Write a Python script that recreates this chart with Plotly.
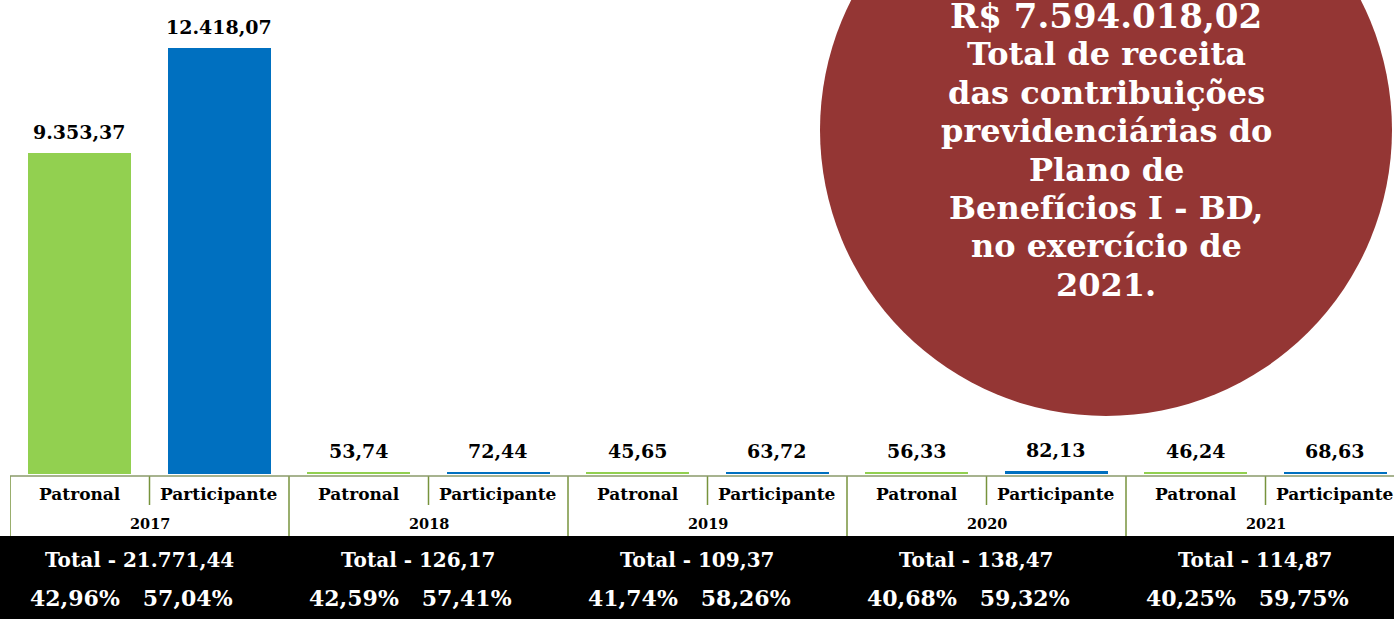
import plotly.graph_objects as go

years = ["2017", "2018", "2019", "2020", "2021"]
patronal = [9353.37, 53.74, 45.65, 56.33, 46.24]
participante = [12418.07, 72.44, 63.72, 82.13, 68.63]
totais = ["21.771,44", "126,17", "109,37", "138,47", "114,87"]
pct_patronal = ["42,96%", "42,59%", "41,74%", "40,68%", "40,25%"]
pct_participante = ["57,04%", "57,41%", "58,26%", "59,32%", "59,75%"]
cat_labels = ["Patronal", "Participante"]
circle_title = "R$ 7.594.018,02"
circle_lines = ["Total de receita", "das contribuições", "previdenciárias do",
                "Plano de", "Benefícios I - BD,", "no exercício de", "2021."]

W, H = 1394, 619
FONT = "DejaVu Serif"
GREEN = "#92D050"
BLUE = "#0070C0"
LINE = "#77933C"

def br(v):
    s = f"{v:,.2f}"
    return s.replace(",", "X").replace(".", ",").replace("X", ".")

xp = [2 * i for i in range(len(years))]
xq = [2 * i + 1 for i in range(len(years))]

fig = go.Figure()
fig.add_trace(go.Bar(x=xp, y=patronal, width=0.74, marker=dict(color=GREEN, line=dict(width=0)),
                     name="Patronal", showlegend=False))
fig.add_trace(go.Bar(x=xq, y=participante, width=0.74, marker=dict(color=BLUE, line=dict(width=0)),
                     name="Participante", showlegend=False))

ann = []
shapes = []
for i in range(len(years)):
    for x, v in ((xp[i], patronal[i]), (xq[i], participante[i])):
        ann.append(dict(x=x, y=v, xref="x", yref="y", text=f"<b>{br(v)}</b>", showarrow=False,
                        xanchor="center", yanchor="bottom", yshift=8,
                        font=dict(family=FONT, size=19, color="black")))
    # category row
    for x, lab in ((xp[i], cat_labels[0]), (xq[i], cat_labels[1])):
        ann.append(dict(x=x, y=(H - 494) / H, xref="x", yref="paper", text=f"<b>{lab}</b>",
                        showarrow=False, xanchor="center", yanchor="middle",
                        font=dict(family=FONT, size=17, color="black")))
    ann.append(dict(x=2 * i + 0.5, y=(H - 523) / H, xref="x", yref="paper", text=f"<b>{years[i]}</b>",
                    showarrow=False, xanchor="center", yanchor="middle",
                    font=dict(family=FONT, size=14.5, color="black")))
    ann.append(dict(x=2 * i + 0.43, y=(H - 560) / H, xref="x", yref="paper",
                    text=f"<b>Total - {totais[i]}</b>", showarrow=False, xanchor="center",
                    yanchor="middle", font=dict(family=FONT, size=20, color="white")))
    ann.append(dict(x=2 * i + 0.37, y=(H - 598) / H, xref="x", yref="paper",
                    text=f"<b>{pct_patronal[i]}   {pct_participante[i]}</b>", showarrow=False,
                    xanchor="center", yanchor="middle", font=dict(family=FONT, size=22, color="white")))
    # within-year divider
    shapes.append(dict(type="line", xref="x", yref="paper", x0=2 * i + 0.5, x1=2 * i + 0.5,
                       y0=(H - 505) / H, y1=(H - 476) / H, line=dict(color=LINE, width=1.5)))
    # year divider
    shapes.append(dict(type="line", xref="x", yref="paper", x0=2 * i - 0.5, x1=2 * i - 0.5,
                       y0=(H - 536) / H, y1=(H - 476) / H, line=dict(color=LINE, width=1.5)))

# black band
shapes.insert(0, dict(type="rect", xref="paper", yref="paper", x0=0, x1=1, y0=0, y1=(H - 536) / H,
                      fillcolor="black", line=dict(width=0), layer="below"))
# top border of table
shapes.append(dict(type="line", xref="paper", yref="paper", x0=10 / W, x1=1, y0=(H - 476) / H,
                   y1=(H - 476) / H, line=dict(color="#8A9A6A", width=1.5)))
# circle
shapes.append(dict(type="circle", xref="paper", yref="paper", x0=820 / W, x1=1392 / W,
                   y0=(H - 416) / H, y1=(H + 156) / H, fillcolor="#943634", line=dict(width=0),
                   layer="above"))

cx = 1106 / W
ann.append(dict(x=cx, y=(H - 16) / H, xref="paper", yref="paper", text=f"<b>{circle_title}</b>",
                showarrow=False, xanchor="center", yanchor="middle",
                font=dict(family=FONT, size=34, color="white")))
for k, line in enumerate(circle_lines):
    ann.append(dict(x=cx, y=(H - (54 + 38.5 * k)) / H, xref="paper", yref="paper",
                    text=f"<b>{line}</b>", showarrow=False, xanchor="center", yanchor="middle",
                    font=dict(family=FONT, size=32, color="white")))

ymax = 12418.07 * 474 / 426
fig.update_layout(
    width=W, height=H, margin=dict(l=0, r=0, t=0, b=0),
    paper_bgcolor="white", plot_bgcolor="white",
    xaxis=dict(domain=[10 / W, 1], range=[-0.5, (W - 79.75) / 139.5], visible=False, fixedrange=True),
    yaxis=dict(domain=[(H - 474) / H, 1], range=[0, ymax], visible=False, fixedrange=True),
    bargap=0, shapes=shapes, annotations=ann, showlegend=False,
)
fig.write_html("out.html", config={"displayModeBar": False},
               post_script="document.body.style.margin='0';document.body.style.overflow='hidden';")
